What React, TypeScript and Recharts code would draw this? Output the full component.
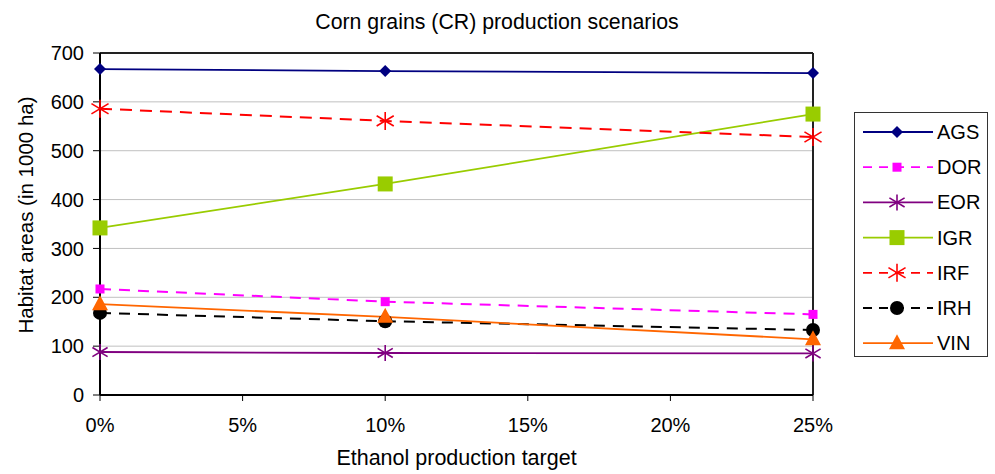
import React from 'react';
import {
  LineChart,
  Line,
  XAxis,
  YAxis,
  CartesianGrid,
  ReferenceLine,
} from 'recharts';

// ethanol production targets (%)
const targets = [0, 10, 25];

const ags = [667, 663, 659];
const dor = [217, 191, 165];
const eor = [88, 86, 85];
const igr = [342, 432, 575];
const irf = [586, 561, 528];
const irh = [168, 151, 133];
const vin = [186, 160, 114];

const yTicks = [0, 100, 200, 300, 400, 500, 600, 700];
const xTicks = [0, 5, 10, 15, 20, 25];

const FONT = '"Liberation Sans", Arial, sans-serif';

type Shape = 'diamond' | 'square' | 'star' | 'bigSquare' | 'bigStar' | 'circle' | 'triangle';

const series: { key: string; values: number[]; color: string; dash?: string; shape: Shape }[] = [
  { key: 'AGS', values: ags, color: '#000080', shape: 'diamond' },
  { key: 'DOR', values: dor, color: '#FF00FF', dash: '11 8', shape: 'square' },
  { key: 'EOR', values: eor, color: '#800080', shape: 'star' },
  { key: 'IGR', values: igr, color: '#99CC00', shape: 'bigSquare' },
  { key: 'IRF', values: irf, color: '#FF0000', dash: '12 8', shape: 'bigStar' },
  { key: 'IRH', values: irh, color: '#000000', dash: '11 8', shape: 'circle' },
  { key: 'VIN', values: vin, color: '#FF6600', shape: 'triangle' },
];

const data = targets.map((t, i) => {
  const row: { [k: string]: number } = { target: t };
  series.forEach((s) => (row[s.key] = s.values[i]));
  return row;
});

const Marker = ({ cx, cy, color, shape }: { cx: number; cy: number; color: string; shape: Shape }) => {
  switch (shape) {
    case 'diamond':
      return <polygon points={`${cx},${cy - 6} ${cx + 6},${cy} ${cx},${cy + 6} ${cx - 6},${cy}`} fill={color} />;
    case 'square':
      return <rect x={cx - 4.5} y={cy - 4.5} width={9} height={9} fill={color} />;
    case 'bigSquare':
      return <rect x={cx - 7.5} y={cy - 7.5} width={15} height={15} fill={color} />;
    case 'circle':
      return <circle cx={cx} cy={cy} r={7} fill={color} />;
    case 'triangle':
      return <polygon points={`${cx},${cy - 9} ${cx + 8},${cy + 6} ${cx - 8},${cy + 6}`} fill={color} />;
    case 'star':
    case 'bigStar': {
      const r = shape === 'bigStar' ? 9 : 8;
      const d = r * 0.95;
      return (
        <g stroke={color} strokeWidth={1.6}>
          <line x1={cx} y1={cy - r} x2={cx} y2={cy + r} />
          <line x1={cx - d} y1={cy - d * 0.6} x2={cx + d} y2={cy + d * 0.6} />
          <line x1={cx - d} y1={cy + d * 0.6} x2={cx + d} y2={cy - d * 0.6} />
        </g>
      );
    }
  }
  return null;
};

const LegendBox = () => (
  <svg width={134} height={245} style={{ position: 'absolute', left: 854, top: 112 }}>
    <rect x={0.5} y={0.5} width={133} height={244} fill="#fff" stroke="#333" />
    {series.map((s, i) => {
      const y = 20 + i * 35.2;
      return (
        <g key={s.key}>
          <line x1={9} y1={y} x2={79} y2={y} stroke={s.color} strokeWidth={1.8} strokeDasharray={s.dash ? '9 7' : undefined} />
          <Marker cx={43} cy={y} color={s.color} shape={s.shape} />
          <text x={83} y={y + 7} fontSize={20} fontFamily={FONT} fill="#000">
            {s.key}
          </text>
        </g>
      );
    })}
  </svg>
);

export default function App() {
  return (
    <div style={{ position: 'absolute', left: 0, top: 0, width: 995, height: 474, background: '#fff', fontFamily: FONT }}>
      <LineChart
        width={995}
        height={474}
        data={data}
        margin={{ top: 53, right: 182, bottom: 0, left: 0 }}
        style={{ fontFamily: FONT }}
      >
        <CartesianGrid vertical={false} stroke="#c0c0c0" />
        <XAxis
          dataKey="target"
          type="number"
          domain={[0, 25]}
          ticks={xTicks}
          tickFormatter={(v) => `${v}%`}
          height={79}
          tickSize={6}
          tickMargin={17}
          axisLine={{ stroke: '#000', strokeWidth: 2 }}
          tickLine={{ stroke: '#000' }}
          tick={{ fill: '#000', fontSize: 20 }}
          label={{ value: 'Ethanol production target', position: 'insideBottom', offset: 9, fill: '#000', fontSize: 21.5 }}
        />
        <YAxis
          domain={[0, 700]}
          ticks={yTicks}
          width={100}
          tickSize={7}
          tickMargin={9}
          axisLine={{ stroke: '#000', strokeWidth: 2 }}
          tickLine={{ stroke: '#000' }}
          tick={{ fill: '#000', fontSize: 20 }}
        />
        <ReferenceLine y={700} stroke="#222" strokeWidth={2} />
        <ReferenceLine x={25} stroke="#222" strokeWidth={2} />
        {series.map((s) => (
          <Line
            key={s.key}
            dataKey={s.key}
            stroke={s.color}
            strokeWidth={s.dash ? 2 : 1.8}
            strokeDasharray={s.dash}
            isAnimationActive={false}
            activeDot={false}
            dot={(p: any) => (
              <g key={`${s.key}-${p.index}`}>
                <Marker cx={p.cx} cy={p.cy} color={s.color} shape={s.shape} />
              </g>
            )}
          />
        ))}
      </LineChart>
      <svg width={995} height={474} style={{ position: 'absolute', left: 0, top: 0, pointerEvents: 'none' }}>
        <text x={497} y={29} textAnchor="middle" fontSize={21.3} fontFamily={FONT} fill="#000">
          Corn grains (CR) production scenarios
        </text>
        <text
          x={33}
          y={215}
          textAnchor="middle"
          fontSize={20.5}
          fontFamily={FONT}
          fill="#000"
          transform="rotate(-90 33 215)"
        >
          Habitat areas (in 1000 ha)
        </text>
      </svg>
      <LegendBox />
    </div>
  );
}
